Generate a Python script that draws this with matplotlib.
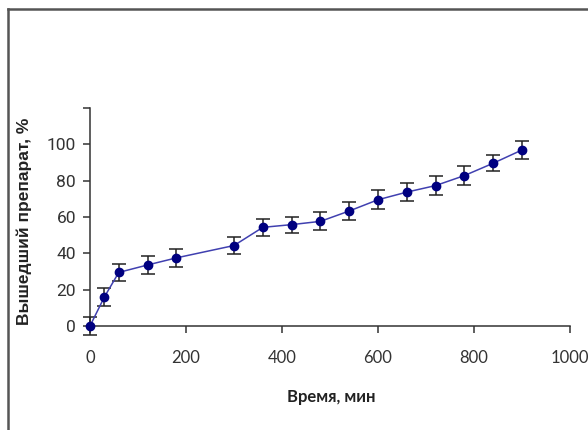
import matplotlib.pyplot as plt
from matplotlib.lines import Line2D

# data
time_min = [0, 30, 60, 120, 180, 300, 360, 420, 480, 540, 600, 660, 720, 780, 840, 900]
released = [0, 16, 29.5, 33.6, 37.5, 44.3, 54.3, 55.8, 57.6, 63.3, 69.5, 73.7, 77.3, 82.8, 89.6, 96.9]
err = [5, 5, 4.7, 5.2, 5, 4.9, 4.7, 4.4, 5, 5.2, 5.1, 5.1, 5, 5.3, 4.5, 5]

x_ticks = [0, 200, 400, 600, 800, 1000]
y_ticks = [0, 20, 40, 60, 80, 100, 120]
y_labels = ["0", "20", "40", "60", "80", "100", ""]

fig = plt.figure(figsize=(5.88, 4.30), dpi=100)
ax = fig.add_axes([90/588, 1 - 326/430, 480/588, 218/430])

ax.errorbar(time_min, released, yerr=err, color="#4040b0", lw=1.1,
            marker="o", ms=6, mfc="#000080", mec="#000080",
            ecolor="#222222", elinewidth=1.1, capsize=5, capthick=1.1,
            clip_on=False, zorder=3)

ax.set_xlim(0, 1000)
ax.set_ylim(0, 120)
for s in ["top", "right"]:
    ax.spines[s].set_visible(False)
for s in ["left", "bottom"]:
    ax.spines[s].set_color("#333333")
    ax.spines[s].set_linewidth(1.1)

ax.set_yticks(y_ticks)
ax.set_yticklabels(y_labels, family=["Liberation Sans Narrow", "Roboto", "DejaVu Sans"], fontsize=12.5, color="#333333")
ax.set_xticks(x_ticks)
ax.set_xticklabels([str(v) for v in x_ticks], family=["Lato", "DejaVu Sans"], fontsize=12, color="#333333")
ax.tick_params(axis="y", direction="out", length=5, width=1.1, color="#333333", pad=5)
ax.tick_params(axis="x", direction="out", length=5, width=1.1, color="#333333", pad=12)

fig.text(24/588, 1 - 221/430, "Вышедший препарат, %", rotation=90, ha="center", va="center",
         fontsize=12.5, fontweight="bold", family=["Liberation Sans", "DejaVu Sans"], color="#222222")
fig.text(331/588, 1 - 397/430, "Время, мин", ha="center", va="center",
         fontsize=12, fontweight="bold", family=["Lato", "DejaVu Sans"], color="#222222")

# outer frame of the chart area
fig.add_artist(Line2D([8/588, 8/588], [-0.02, 1 - 9/430], transform=fig.transFigure, color="#555555", lw=1.8))
fig.add_artist(Line2D([8/588, 1.02], [1 - 9/430, 1 - 9/430], transform=fig.transFigure, color="#555555", lw=1.8))

fig.savefig("out.png", dpi=100)
